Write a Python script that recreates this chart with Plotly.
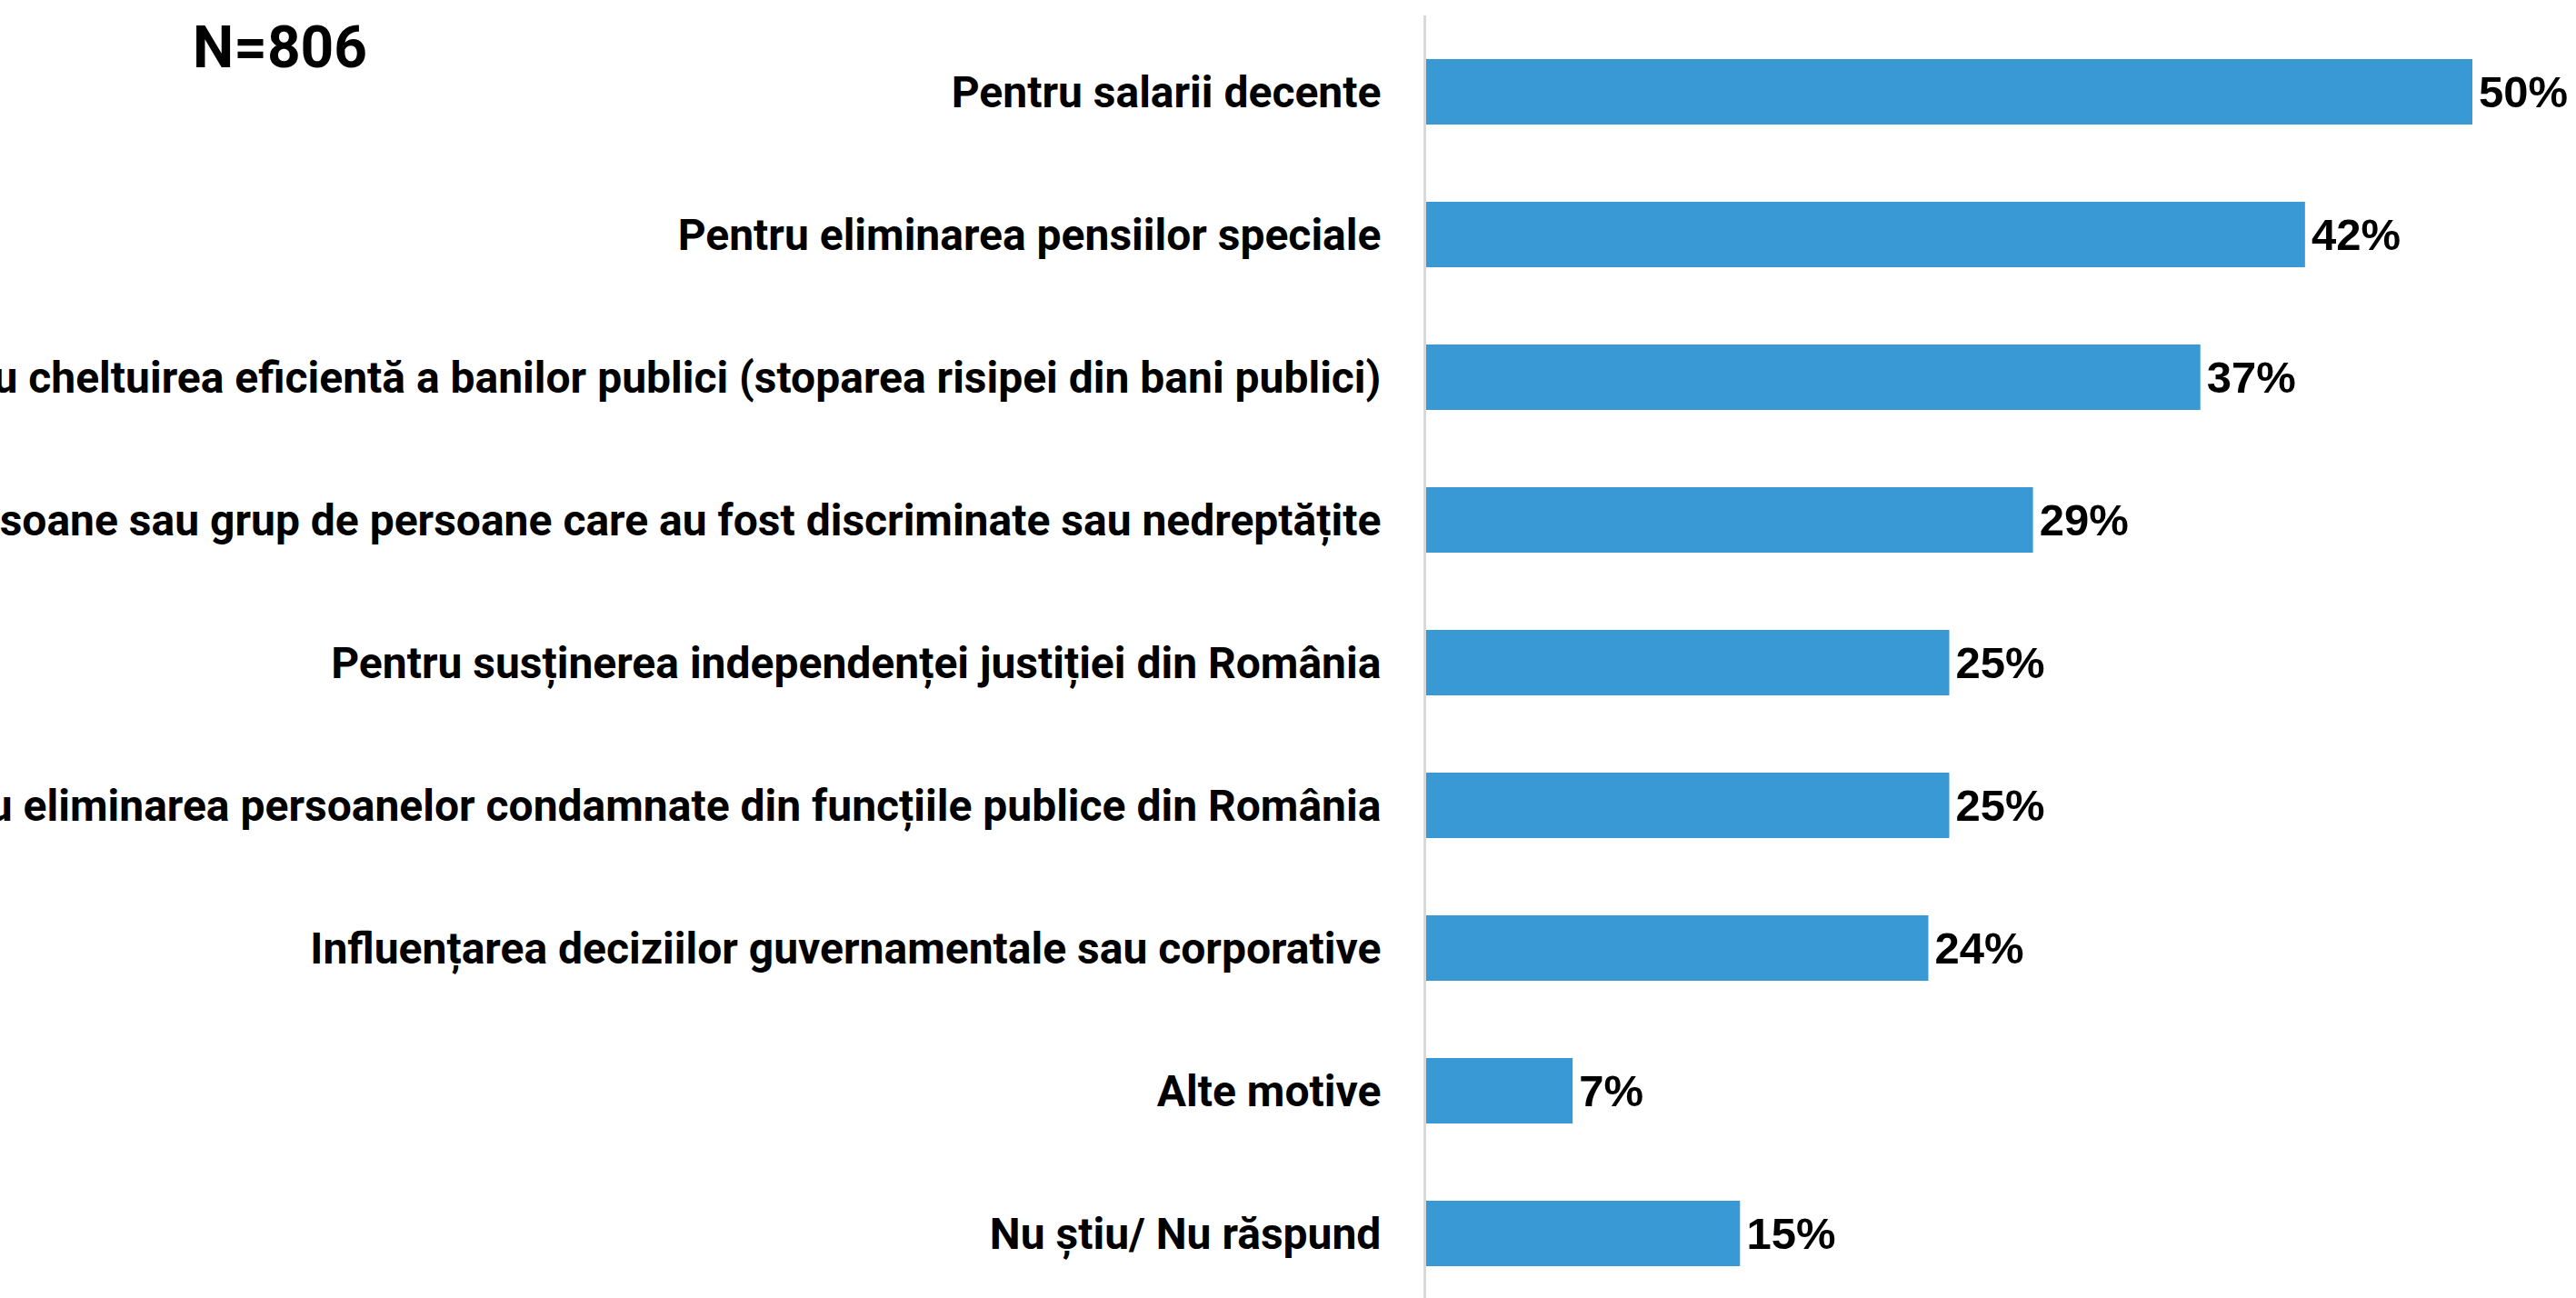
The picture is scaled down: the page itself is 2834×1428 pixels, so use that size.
import plotly.graph_objects as go

categories = [
    "Pentru salarii decente",
    "Pentru eliminarea pensiilor speciale",
    "Pentru cheltuirea eficientă a banilor publici (stoparea risipei din bani publici)",
    "Pentru persoane sau grup de persoane care au fost discriminate sau nedreptățite",
    "Pentru susținerea independenței justiției din România",
    "Pentru eliminarea persoanelor condamnate din funcțiile publice din România",
    "Influențarea deciziilor guvernamentale sau corporative",
    "Alte motive",
    "Nu știu/ Nu răspund",
]
values = [50, 42, 37, 29, 25, 25, 24, 7, 15]
sample_label = "N=806"

W, H = 2834, 1428
L, T = 1569, 17
plot_w = W - L
px_per_unit = 23.02
x_max = plot_w / px_per_unit

fig = go.Figure(
    go.Bar(
        x=values,
        y=list(range(len(categories))),
        orientation="h",
        marker=dict(color="#3899D4", line=dict(width=0)),
        width=0.459,
        text=[f"{v}%" for v in values],
        texttemplate="\u200a%{text}",
        textposition="outside",
        textfont=dict(family="Liberation Sans, Arial", size=49, color="#000000", weight=700),
        constraintext="none",
        cliponaxis=False,
        hoverinfo="skip",
    )
)

fig.update_layout(
    width=W,
    height=H,
    margin=dict(l=L, r=0, t=T, b=0, autoexpand=False),
    paper_bgcolor="white",
    plot_bgcolor="white",
    showlegend=False,
    font=dict(family="Roboto", color="#000000"),
    xaxis=dict(
        range=[0, x_max],
        showgrid=False,
        zeroline=False,
        showticklabels=False,
        showline=False,
        fixedrange=True,
    ),
    yaxis=dict(
        tickmode="array",
        tickvals=list(range(len(categories))),
        ticktext=categories,
        range=[8.452, -0.535],
        showgrid=False,
        zeroline=False,
        showline=True,
        linecolor="#d9d9d9",
        linewidth=3,
        ticks="",
        ticklabelstandoff=37,
        tickfont=dict(family="Roboto", size=48, color="#000000", weight=700),
        automargin=False,
        fixedrange=True,
    ),
    bargap=0.541,
)

fig.add_annotation(
    text=sample_label,
    xref="paper",
    yref="paper",
    x=(210 - L) / plot_w,
    y=1 - (52 - T) / (H - T),
    xanchor="left",
    yanchor="middle",
    showarrow=False,
    font=dict(family="Roboto", size=64, color="#000000", weight=700),
)

fig.write_html(
    "out.html",
    config={"displayModeBar": False},
    post_script="document.body.style.margin='0';document.body.style.overflow='hidden';",
)
